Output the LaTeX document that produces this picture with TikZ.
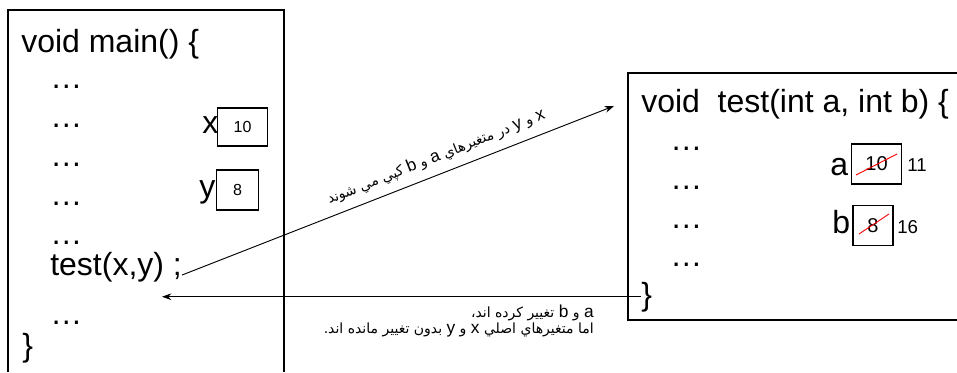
\documentclass[tikz,border=0pt]{standalone}
\usepackage{fontspec}
\setmainfont{Liberation Sans}
\newfontfamily\arabicfont[Script=Arabic]{DejaVu Sans}
\TeXXeTstate=1
\usetikzlibrary{arrows.meta}
\newcommand{\ltr}[1]{{\normalfont\fontsize{13}{13}\selectfont #1}}
\tikzset{
  code/.style  ={anchor=base west, inner sep=0pt, font=\fontsize{24}{28}\selectfont},
  cell/.style  ={draw, line width=0.8pt, inner sep=0pt, font=\fontsize{12}{14}\selectfont},
  bigcell/.style={cell, font=\fontsize{15}{17}\selectfont},
  num/.style   ={anchor=west, inner sep=0pt, font=\fontsize{14}{16}\selectfont},
  frame/.style ={line width=0.9pt},
  call/.style  ={-{Stealth[length=7pt, width=5pt]}, line width=0.7pt},
  strike/.style={red, line width=0.7pt},
  note/.style  ={inner sep=0pt, font=\arabicfont\fontsize{10.5}{12}\selectfont},
}

\begin{document}
\begin{tikzpicture}[x=0.75pt, y=-0.75pt]
  \useasboundingbox (0,0) rectangle (957,372);
  % caller
  \draw[frame] (8,372) |- (284,10) -- (284,372);
  \node[code] (mhead) at (21,52) {void main() \{};
  \foreach \y [count=\i] in {88,127,166,205,244,324}
    \node[code] (mdots\i) at (50,\y) {…};
  \node[code] (tcall) at (50,275) {test(x,y) ;};
  \node[code] (mend) at (22,356) {\}};
  \node[code] (xlab) at (202,133) {x};
  \node[cell, minimum width=38pt, minimum height=28.5pt] (xval) at (242.5,127) {10};
  \node[code] (ylab) at (199,197) {y};
  \node[cell, minimum width=31pt, minimum height=30pt] (yval) at (237.5,190) {8};
  % callee
  \draw[frame] (957,73) -| (628,320) -- (957,320);
  \node[code] (thead) at (641,112) {void\ \ test(int a, int b) \{};
  \foreach \y [count=\i] in {150,189,228,266}
    \node[code] (tdots\i) at (670,\y) {…};
  \node[code] (tend) at (641,305) {\}};
  \node[code] (alab) at (830,175) {a};
  \node[bigcell, minimum width=38pt, minimum height=30pt] (aval) at (876.5,164) {10};
  \draw[strike] (856,175) -- (897,154);
  \node[num] (anew) at (907,165) {11};
  \node[code] (blab) at (832,233) {b};
  \node[bigcell, minimum width=30pt, minimum height=30.5pt] (bval) at (873,225.5) {8};
  \draw[strike] (859,234) -- (889,214);
  \node[num] (bnew) at (897,227) {16};
  % calls
  \coordinate (entry) at (614,106);
  \coordinate (back) at (162,0);
  \draw[call] (tcall.base east) -- (entry);
  \draw[call] (tend.west) -- (tend.west -| back);
  \node[note, rotate=21.5] (copynote) at (436,157)
    {\beginR \ltr{x} و \ltr{y} در متغيرهاي \ltr{a} و \ltr{b} كپي مي شوند\endR};
  \node[note, anchor=north east, align=right] (changenote) at (594,305)
    {\beginR \ltr{a} و \ltr{b} تغيير كرده اند،\endR\\
     \beginR اما متغيرهاي اصلي \ltr{x} و \ltr{y} بدون تغيير مانده اند.\endR};
\end{tikzpicture}
\end{document}
